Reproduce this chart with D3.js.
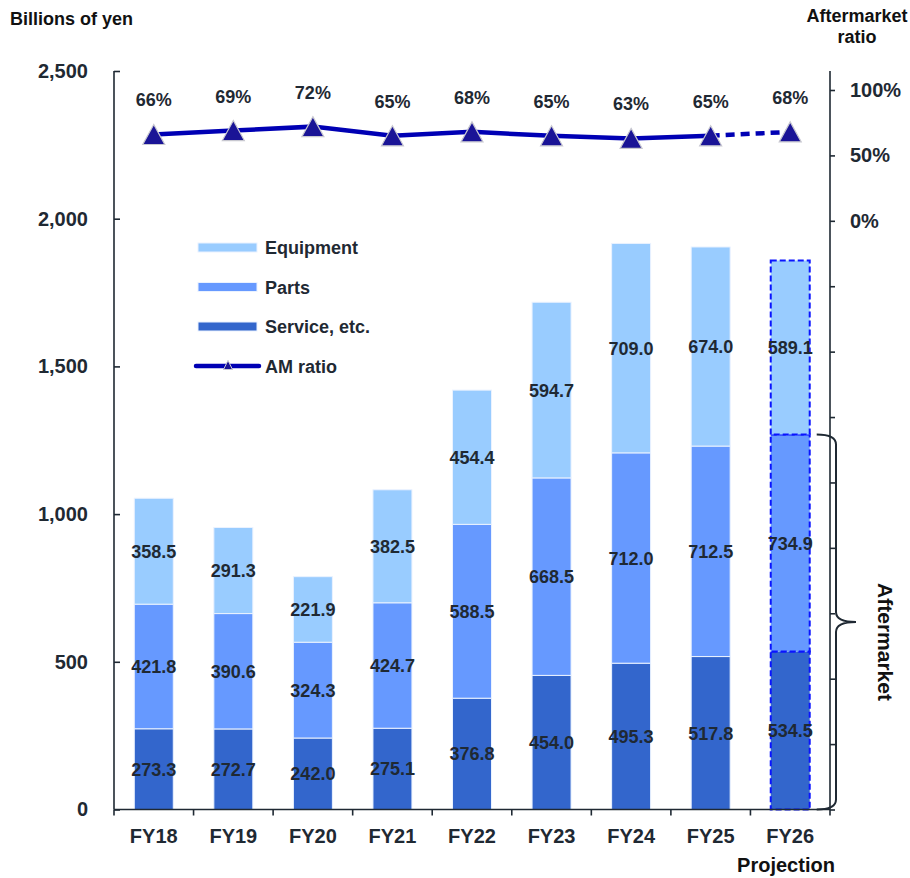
<!DOCTYPE html>
<html>
<head>
<meta charset="utf-8">
<script src="https://cdn.jsdelivr.net/npm/d3@7"></script>
<style>
  html, body { margin: 0; padding: 0; background: #fff; }
  svg { display: block; font-family: "Liberation Sans", Arial, sans-serif; font-weight: bold; }
</style>
</head>
<body>
<svg id="chart" width="910" height="878"></svg>
<script>
const categories = ["FY18", "FY19", "FY20", "FY21", "FY22", "FY23", "FY24", "FY25", "FY26"];
const serviceValues = [273.3, 272.7, 242.0, 275.1, 376.8, 454.0, 495.3, 517.8, 534.5];
const partsValues = [421.8, 390.6, 324.3, 424.7, 588.5, 668.5, 712.0, 712.5, 734.9];
const equipmentValues = [358.5, 291.3, 221.9, 382.5, 454.4, 594.7, 709.0, 674.0, 589.1];
const amRatio = [66, 69, 72, 65, 68, 65, 63, 65, 68];
const leftTicks = [0, 500, 1000, 1500, 2000, 2500];
const rightTickLabels = [0, 50, 100];
const projectionIndex = 8;

const TEXT = "#1f2933";
const svg = d3.select("#chart");

const x = d3.scaleBand().domain(categories).range([114, 830]).paddingInner(0).paddingOuter(0);
const y = d3.scaleLinear().domain([0, 2500]).range([809.5, 71]);
const yR = d3.scaleLinear().domain([-450, 100]).range([809.5, 90]);
const barW = x.bandwidth() * 0.49;
const barX = c => x(c) + (x.bandwidth() - barW) / 2;
const cx = c => x(c) + x.bandwidth() / 2;

const seriesDefs = [
  { key: "service", name: "Service, etc.", values: serviceValues, color: "#3366cc" },
  { key: "parts", name: "Parts", values: partsValues, color: "#6699ff" },
  { key: "equipment", name: "Equipment", values: equipmentValues, color: "#99ccff" }
];

const table = categories.map((c, i) => ({
  cat: c, service: serviceValues[i], parts: partsValues[i], equipment: equipmentValues[i]
}));
const stacked = d3.stack().keys(seriesDefs.map(s => s.key))(table);

// bars
stacked.forEach((layer, li) => {
  const g = svg.append("g");
  g.selectAll("rect").data(layer).join("rect")
    .attr("x", d => barX(d.data.cat))
    .attr("width", barW)
    .attr("y", d => y(d[1]))
    .attr("height", d => y(d[0]) - y(d[1]))
    .attr("fill", seriesDefs[li].color)
    .attr("stroke", (d, i) => i === projectionIndex ? "#0a14ff" : "#eaf2ff")
    .attr("stroke-width", (d, i) => i === projectionIndex ? 2 : 1)
    .attr("stroke-dasharray", (d, i) => i === projectionIndex ? "6,3" : null);
  g.selectAll("text").data(layer).join("text")
    .attr("x", d => cx(d.data.cat))
    .attr("y", d => (y(d[0]) + y(d[1])) / 2 + 6.5)
    .attr("text-anchor", "middle")
    .attr("font-size", 18)
    .attr("fill", TEXT)
    .text(d => (d[1] - d[0]).toFixed(1));
});

// axes
const axisColor = "#1f2933";
const gl = svg.append("g").attr("transform", "translate(114,0)")
  .call(d3.axisLeft(y).tickValues(leftTicks).tickFormat(d3.format(",")).tickSizeInner(-6).tickSizeOuter(0).tickPadding(26));
gl.selectAll("text").attr("font-size", 20).attr("font-family", "Liberation Sans, Arial, sans-serif").attr("font-weight", "bold").attr("fill", TEXT);
gl.selectAll("line, path").attr("stroke", axisColor).attr("stroke-width", 1.6);
gl.select(".domain").attr("d", `M0,${y(0)}V${y(2500)}`);

const gr = svg.append("g").attr("transform", "translate(830,0)")
  .call(d3.axisRight(yR).tickValues(d3.range(-450, 101, 50))
    .tickFormat(d => rightTickLabels.includes(d) ? d + "%" : "")
    .tickSizeInner(5).tickSizeOuter(0).tickPadding(15));
gr.selectAll("text").attr("font-size", 20).attr("font-family", "Liberation Sans, Arial, sans-serif").attr("font-weight", "bold").attr("fill", TEXT);
gr.selectAll("line, path").attr("stroke", axisColor).attr("stroke-width", 1.6);
gr.select(".domain").attr("d", `M0,${y(0)}V${y(2500)}`);

// bottom axis
const gb = svg.append("g").attr("transform", `translate(0,${y(0)})`);
gb.append("line").attr("x1", 114).attr("x2", 830).attr("stroke", axisColor).attr("stroke-width", 1.6);
const bounds = categories.map(c => x(c)).concat([x(categories[categories.length - 1]) + x.bandwidth()]);
gb.selectAll("line.tk").data(bounds).join("line").attr("class", "tk")
  .attr("x1", d => d).attr("x2", d => d).attr("y1", 0).attr("y2", 6)
  .attr("stroke", axisColor).attr("stroke-width", 1.6);
gb.selectAll("text").data(categories).join("text")
  .attr("x", d => cx(d)).attr("y", 33.5)
  .attr("text-anchor", "middle").attr("font-size", 20).attr("fill", TEXT)
  .text(d => d);

svg.append("text").attr("x", 786).attr("y", 872).attr("text-anchor", "middle")
  .attr("font-size", 20).attr("fill", "#111").text("Projection");

// AM ratio line
const pts = categories.map((c, i) => [cx(c), yR(amRatio[i])]);
const line = d3.line();
svg.append("path").attr("d", line(pts.slice(0, projectionIndex)))
  .attr("fill", "none").attr("stroke", "#0000b4").attr("stroke-width", 4.5);
svg.append("path").attr("d", line(pts.slice(projectionIndex - 1)))
  .attr("fill", "none").attr("stroke", "#0000b4").attr("stroke-width", 4.5).attr("stroke-dasharray", "9,6");

const tri = (w, h) => `M0,${-h / 2}L${w / 2},${h / 2}L${-w / 2},${h / 2}Z`;
svg.selectAll("path.tri").data(pts).join("path").attr("class", "tri")
  .attr("transform", d => `translate(${d[0]},${d[1]})`)
  .attr("d", tri(22, 20))
  .attr("fill", "#1a1496").attr("stroke", "#c8c8d0").attr("stroke-width", 1.2);

svg.selectAll("text.pct").data(pts).join("text").attr("class", "pct")
  .attr("x", d => d[0]).attr("y", d => d[1] - 28)
  .attr("text-anchor", "middle").attr("font-size", 18).attr("fill", TEXT)
  .text((d, i) => amRatio[i] + "%");

// legend
const legendItems = [seriesDefs[2], seriesDefs[1], seriesDefs[0]];
const lg = svg.append("g");
legendItems.forEach((s, i) => {
  const ly = 247.5 + i * 39.5;
  lg.append("rect").attr("x", 198).attr("y", ly - 4.5).attr("width", 59).attr("height", 9)
    .attr("fill", s.color).attr("stroke", "#eaf2ff").attr("stroke-width", 1);
  lg.append("text").attr("x", 265).attr("y", ly + 6.5).attr("font-size", 18).attr("fill", TEXT).text(s.name);
});
{
  const ly = 247.5 + 3 * 39.5;
  lg.append("line").attr("x1", 196).attr("x2", 259).attr("y1", ly).attr("y2", ly)
    .attr("stroke", "#0000b4").attr("stroke-width", 4.5).attr("stroke-linecap", "round");
  lg.append("path").attr("transform", `translate(228,${ly - 1})`).attr("d", tri(9, 9))
    .attr("fill", "#1a1496").attr("stroke", "#c8c8d0").attr("stroke-width", 1);
  lg.append("text").attr("x", 265).attr("y", ly + 6.5).attr("font-size", 18).attr("fill", TEXT).text("AM ratio");
}

// titles
svg.append("text").attr("x", 10).attr("y", 25).attr("font-size", 18).attr("fill", "#111").text("Billions of yen");
svg.append("text").attr("x", 857).attr("y", 22).attr("text-anchor", "middle").attr("font-size", 18).attr("fill", "#111").text("Aftermarket");
svg.append("text").attr("x", 857).attr("y", 43).attr("text-anchor", "middle").attr("font-size", 18).attr("fill", "#111").text("ratio");

// aftermarket brace
const bTop = y(serviceValues[projectionIndex] + partsValues[projectionIndex]);
const bBot = y(0);
const bMid = (bTop + bBot) / 2;
const bx0 = barX(categories[projectionIndex]) + barW + 7;
const bx1 = 836, tip = 856;
svg.append("path")
  .attr("d", `M${bx0},${bTop}Q${bx1},${bTop} ${bx1},${bTop + 10}L${bx1},${bMid - 10}Q${bx1},${bMid} ${tip},${bMid}Q${bx1},${bMid} ${bx1},${bMid + 10}L${bx1},${bBot - 10}Q${bx1},${bBot} ${bx0},${bBot}`)
  .attr("fill", "none").attr("stroke", "#1f2933").attr("stroke-width", 2);
svg.append("text").attr("transform", `translate(878,${bMid + 20}) rotate(90)`)
  .attr("text-anchor", "middle").attr("font-size", 21).attr("fill", "#111").text("Aftermarket");
</script>
</body>
</html>
